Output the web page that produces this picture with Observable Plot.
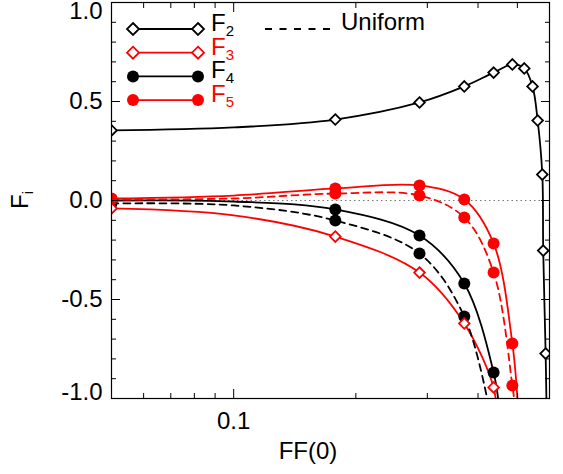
<!DOCTYPE html>
<html><head><meta charset="utf-8">
<script src="https://cdn.jsdelivr.net/npm/d3@7"></script>
<script src="https://cdn.jsdelivr.net/npm/@observablehq/plot@0.6"></script>
<style>body{margin:0;background:#fff}#chart{width:563px;height:474px}</style>
</head><body><div id="chart"></div>
<script>
// ---- data ----
const symbolX = [0.05, 0.178, 0.287, 0.37, 0.437, 0.486, 0.52, 0.545, 0.561, 0.576, 0.579, 0.587];
const F2sym  = [0.354, 0.409, 0.495, 0.576, 0.646, 0.687, 0.667, 0.576, 0.404, 0.131, -0.253, -0.773];
const F3sym  = [-0.04, -0.182, -0.364, -0.621, -0.944];
const F4sym  = [0.0, -0.045, -0.177, -0.419, -0.869];
const F4Usym = [-0.015, -0.101, -0.268, -0.586];
const F5sym  = [0.01, 0.061, 0.076, 0.005, -0.217, -0.722];
const F5Usym = [0.005, 0.035, 0.025, -0.086, -0.364, -0.934];

const F2line  = [[0.05,0.354],[0.1,0.369],[0.178,0.409],[0.287,0.495],[0.37,0.576],[0.437,0.646],[0.486,0.687],[0.52,0.667],[0.545,0.576],[0.561,0.404],[0.576,0.131],[0.579,-0.253],[0.587,-0.773],[0.59,-1.05]];
const F3line  = [[0.05,-0.04],[0.1,-0.075],[0.178,-0.182],[0.287,-0.364],[0.37,-0.621],[0.437,-0.944],[0.443,-1.05]];
const F4line  = [[0.05,0.0],[0.1,-0.005],[0.178,-0.045],[0.287,-0.177],[0.37,-0.419],[0.437,-0.869],[0.451,-1.05]];
const F4Uline = [[0.05,-0.015],[0.1,-0.025],[0.178,-0.101],[0.287,-0.268],[0.37,-0.586],[0.426,-1.05]];
const F5line  = [[0.05,0.01],[0.1,0.025],[0.178,0.061],[0.287,0.076],[0.37,0.005],[0.437,-0.217],[0.486,-0.722],[0.502,-1.05]];
const F5Uline = [[0.05,0.005],[0.1,0.01],[0.178,0.035],[0.287,0.025],[0.37,-0.086],[0.437,-0.364],[0.486,-0.934],[0.494,-1.05]];

const xMajor = [0.1];
const xMinor = [0.06, 0.07, 0.08, 0.09, 0.2, 0.3, 0.4, 0.5];
const yMajor = [-1, -0.5, 0, 0.5, 1];
const yMinor = [-0.9,-0.8,-0.7,-0.6,-0.4,-0.3,-0.2,-0.1,0.1,0.2,0.3,0.4,0.6,0.7,0.8,0.9];

const legendItems = [
  {sub:"2", color:"black", symbol:"diamond"},
  {sub:"3", color:"red",   symbol:"diamond"},
  {sub:"4", color:"black", symbol:"circle"},
  {sub:"5", color:"red",   symbol:"circle"}
];
const uniformLabel = "Uniform";
const xLabel = "FF(0)";

// ---- helpers ----
const pts = (xs, ys) => ys.map((v, i) => ({x: xs[i], y: v}));
const lineOpts = (color, dashed) => ({x: d => d[0], y: d => d[1], stroke: color, strokeWidth: 1.8,
  curve: "catmull-rom", clip: true, strokeDasharray: dashed ? "7,5" : null});
const diamondOpts = color => ({x: "x", y: "y", symbol: "diamond2", r: 4.8, stroke: color, strokeWidth: 1.8, fill: "white", clip: true});
const circleOpts = color => ({x: "x", y: "y", symbol: "circle", r: 6, fill: color, stroke: "none", clip: true});
const noText = () => "";
const fmt = d => d.toFixed(1);

const plot = Plot.plot({
  width: 563, height: 474,
  marginLeft: 111, marginRight: 14, marginTop: 2, marginBottom: 76,
  style: {fontFamily: "'Liberation Sans', Arial, sans-serif", fontSize: "24px", color: "black", background: "white"},
  x: {type: "log", domain: [0.05, 0.6]},
  y: {domain: [-1, 1]},
  marks: [
    Plot.ruleY([0], {stroke: "#777", strokeDasharray: "1.5,3", strokeWidth: 1.2}),
    Plot.line(F2line,  lineOpts("black", false)),
    Plot.line(F3line,  lineOpts("red", false)),
    Plot.line(F4line,  lineOpts("black", false)),
    Plot.line(F4Uline, lineOpts("black", true)),
    Plot.line(F5line,  lineOpts("red", false)),
    Plot.line(F5Uline, lineOpts("red", true)),
    Plot.dot(pts(symbolX, F4Usym), circleOpts("black")),
    Plot.dot(pts(symbolX, F4sym),  circleOpts("black")),
    Plot.dot(pts(symbolX, F5Usym), circleOpts("red")),
    Plot.dot(pts(symbolX, F5sym),  circleOpts("red")),
    Plot.dot(pts(symbolX, F3sym),  diamondOpts("red")),
    Plot.dot(pts(symbolX, F2sym),  diamondOpts("black")),
    Plot.frame({stroke: "black", strokeWidth: 1.2}),
    // ticks (inward) on all four sides
    Plot.axisX(xMajor, {anchor: "bottom", tickSize: -9, tickFormat: noText, label: null}),
    Plot.axisX(xMinor, {anchor: "bottom", tickSize: -5, tickFormat: noText, label: null}),
    Plot.axisX(xMajor, {anchor: "top", tickSize: -9, tickFormat: noText, label: null}),
    Plot.axisX(xMinor, {anchor: "top", tickSize: -5, tickFormat: noText, label: null}),
    Plot.axisY(yMajor, {anchor: "left", tickSize: -9, tickFormat: noText, label: null}),
    Plot.axisY(yMinor, {anchor: "left", tickSize: -5, tickFormat: noText, label: null}),
    Plot.axisY(yMajor, {anchor: "right", tickSize: -9, tickFormat: noText, label: null}),
    Plot.axisY(yMinor, {anchor: "right", tickSize: -5, tickFormat: noText, label: null}),
    // labels
    Plot.axisX(xMajor, {anchor: "bottom", tickSize: 0, tickPadding: 13, tickFormat: d => String(d), label: null}),
    Plot.axisY(yMajor.filter(v => Math.abs(v) < 1), {anchor: "left", tickSize: 0, tickPadding: 9, tickFormat: fmt, label: null}),
    Plot.axisY([1], {anchor: "left", tickSize: 0, tickPadding: 9, tickFormat: fmt, label: null, dy: 9}),
    Plot.axisY([-1], {anchor: "left", tickSize: 0, tickPadding: 9, tickFormat: fmt, label: null, dy: -6})
  ]
});

const svg = d3.select(plot);
// x label
svg.append("text").attr("x", 308).attr("y", 459).attr("text-anchor", "middle").attr("fill", "black").text(xLabel);
// y label  F_i
const yl = svg.append("text").attr("transform", "translate(28,200) rotate(-90)").attr("text-anchor", "middle").attr("fill", "black");
yl.append("tspan").text("F");
yl.append("tspan").attr("font-size", 14).attr("dy", 5).text("i");

// legend
const lg = svg.append("g").attr("text-anchor", "start");
legendItems.forEach((it, i) => {
  const y = 29 + i * 23.7;
  lg.append("line").attr("x1", 133).attr("x2", 198).attr("y1", y).attr("y2", y).attr("stroke", it.color).attr("stroke-width", 1.8);
  [133, 198].forEach(x => {
    if (it.symbol === "diamond") {
      lg.append("path").attr("d", `M${x},${y-6}L${x+6},${y}L${x},${y+6}L${x-6},${y}Z`)
        .attr("fill", "white").attr("stroke", it.color).attr("stroke-width", 1.8);
    } else {
      lg.append("circle").attr("cx", x).attr("cy", y).attr("r", 6).attr("fill", it.color);
    }
  });
  const t = lg.append("text").attr("x", 211).attr("y", y + 2).attr("fill", it.color).attr("text-anchor", "start");
  t.append("tspan").text("F");
  t.append("tspan").attr("font-size", 15).attr("dy", 5).text(it.sub);
});
lg.append("line").attr("x1", 265).attr("x2", 331).attr("y1", 29).attr("y2", 29).attr("stroke", "black")
  .attr("stroke-width", 1.8).attr("stroke-dasharray", "7,7.5");
lg.append("text").attr("x", 341).attr("y", 30).attr("fill", "black").attr("text-anchor", "start").text(uniformLabel);

document.getElementById("chart").appendChild(plot);
</script>
</body></html>
